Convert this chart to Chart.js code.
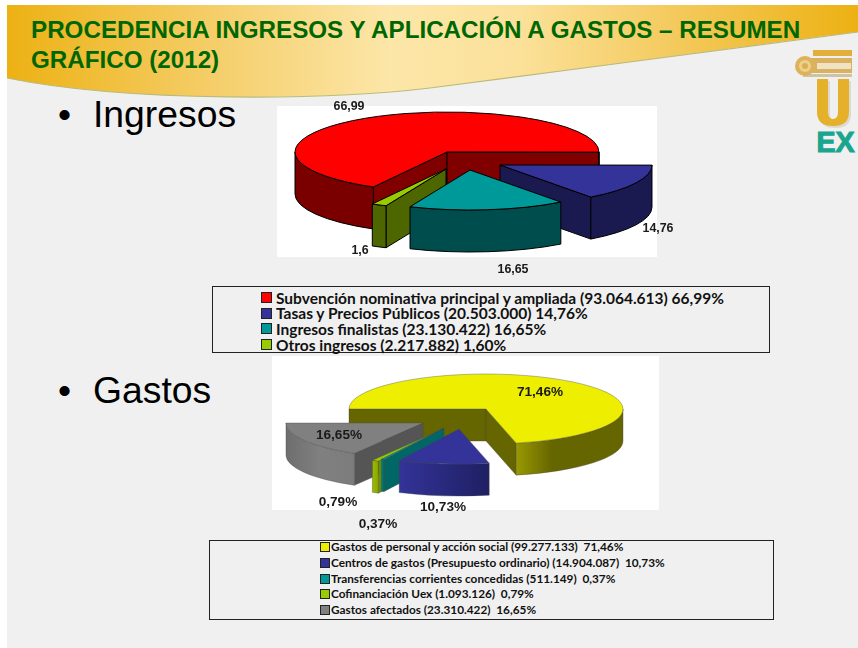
<!DOCTYPE html>
<html lang="es"><head><meta charset="utf-8">
<script src="https://cdn.jsdelivr.net/npm/chart.js@4/dist/chart.umd.min.js"></script>
<style>
html,body{margin:0;padding:0;background:#fff;}
#slide{position:absolute;left:7px;top:5px;width:851px;height:643px;background:#f0f0f0;}
#page{position:absolute;left:0;top:0;width:858px;height:648px;overflow:hidden;font-family:"Liberation Sans",Arial,sans-serif;}
svg.bg{position:absolute;left:0;top:0;}
.title{position:absolute;left:31px;color:#006600;font-weight:bold;font-size:24.2px;white-space:nowrap;line-height:28px;}
.head{position:absolute;color:#000;font-size:37.3px;line-height:42px;white-space:nowrap;}
.white{position:absolute;background:#fff;}
canvas{position:absolute;}
.legend{position:absolute;border:1px solid #222;box-sizing:border-box;}
.row{position:absolute;white-space:nowrap;font-family:Lato,"Open Sans",sans-serif;font-weight:700;color:#111;}
.sw{position:absolute;box-sizing:border-box;border:1px solid #222;}
</style></head><body>
<div id="slide"></div>
<div id="page">
<svg class="bg" width="858" height="648" viewBox="0 0 858 648">
 <defs><linearGradient id="hg" gradientUnits="userSpaceOnUse" x1="7" y1="0" x2="858" y2="0">
  <stop offset="0" stop-color="#edb113"/><stop offset="0.25" stop-color="#f5cf6c"/>
  <stop offset="0.45" stop-color="#fce6a8"/><stop offset="0.6" stop-color="#fbe19a"/><stop offset="0.8" stop-color="#f3c858"/><stop offset="1" stop-color="#edb113"/>
 </linearGradient></defs>
 <path d="M7,5 H858 V32 C780,41 560,72 430,88 C330,100 130,103 7,78 Z" fill="url(#hg)" stroke="none"/>
 <path d="M858,32 C780,41 560,72 430,88 C330,100 130,103 7,78" fill="none" stroke="#b9bb7d" stroke-width="1.2"/>
 <g id="logo">
  <rect x="813" y="50" width="39" height="6" fill="#e2b03a"/>
  <rect x="805" y="58" width="47" height="15" fill="#d9b160"/>
  <rect x="803" y="74" width="49" height="3" fill="#cfc3a6"/>
  <circle cx="805" cy="66" r="10" fill="#dcb25a"/><circle cx="805" cy="66" r="6" fill="#ecd08c"/><circle cx="805" cy="66" r="3" fill="#dcaf50"/>
  <rect x="817" y="63" width="34" height="6" fill="#efe3c4"/>
  <path d="M819,81 H830 V114 Q830,121 835,121 Q840,121 840,114 V81 H851 V114 Q851,128 835,128 Q819,128 819,114 Z" fill="#c9c3b4" opacity="0.5"/>
  <path d="M817,79 H828 V112 Q828,119 833,119 Q838,119 838,112 V79 H849 V112 Q849,126 833,126 Q817,126 817,112 Z" fill="#e5b02a"/>
  <text transform="translate(816.5,152) scale(1.06,1.12)" font-family="Liberation Sans" font-weight="bold" font-size="27" fill="#1aa58f" stroke="#1aa58f" stroke-width="1">EX</text>
 </g>
</svg>
<div class="title" style="top:16px">PROCEDENCIA INGRESOS Y APLICACIÓN A GASTOS – RESUMEN</div>
<div class="title" style="top:46px">GRÁFICO (2012)</div>
<div class="head" style="left:58px;top:93px">•</div><div class="head" style="left:93px;top:93px">Ingresos</div>
<div class="head" style="left:58px;top:369px">•</div><div class="head" style="left:93px;top:369px">Gastos</div>
<div class="white" style="left:277px;top:106px;width:380px;height:151px"></div>
<div class="white" style="left:272px;top:356px;width:387px;height:154px"></div>
<canvas id="c1" width="403" height="185" style="left:277px;top:97px"></canvas>
<canvas id="c2" width="387" height="178" style="left:272px;top:356px"></canvas>
<div class="legend" id="l1" style="left:212px;top:286px;width:558px;height:67px"></div>
<div class="legend" id="l2" style="left:209px;top:540px;width:565px;height:80px"></div>
</div>
<script>
// ---- data ----
const ingresosCategories = ["Subvención nominativa principal y ampliada","Tasas y Precios Públicos","Ingresos finalistas","Otros ingresos"];
const ingresosAmounts = ["93.064.613","20.503.000","23.130.422","2.217.882"];
const ingresosPercent = [66.99,14.76,16.65,1.60];
const gastosCategories = ["Gastos de personal y acción social","Centros de gastos (Presupuesto ordinario)","Transferencias corrientes concedidas","Cofinanciación Uex","Gastos afectados"];
const gastosAmounts = ["99.277.133","14.904.087","511.149","1.093.126","23.310.422"];
const gastosPercent = [71.46,10.73,0.37,0.79,16.65];
// ---- styles ----
const ingresosColors = ["#ff0000","#333399","#009999","#99cc00"];
const gastosColors = ["#eeee00","#333399","#009999","#99cc00","#808080"];
const comma = v => String(v).replace(".",",");
const comma2 = v => v.toFixed(2).replace(".",",");

function pie3d(cfg){
  const TAU = Math.PI*2;
  return {
    id:"pie3d",
    beforeDatasetDraw(){ return false; },
    beforeDatasetsDraw(chart){
      const ctx = chart.ctx, arcs = chart.getDatasetMeta(0).data;
      const cx0 = cfg.cx - cfg.ox, cy0 = cfg.cy - cfg.oy;
      const line = ()=>{ ctx.strokeStyle = cfg.stroke; ctx.lineWidth = cfg.strokeWidth; ctx.lineJoin="round"; ctx.stroke(); };
      cfg.order.forEach(i=>{
        const el = arcs[i], a0 = el.startAngle, a1 = el.endAngle;
        const cx = cx0 + cfg.explode[i][0], cy = cy0 + cfg.explode[i][1];
        const P = a => [cx+cfg.rx*Math.cos(a), cy+cfg.ry*Math.sin(a)];
        // cut faces that are turned towards the viewer
        [[a0,Math.cos(a0)<0],[a1,Math.cos(a1)>0]].forEach(([a,visible])=>{
          if(!visible) return;
          const p = P(a);
          ctx.beginPath(); ctx.moveTo(cx,cy); ctx.lineTo(p[0],p[1]); ctx.lineTo(p[0],p[1]+cfg.depth); ctx.lineTo(cx,cy+cfg.depth); ctx.closePath();
          ctx.fillStyle = cfg.face[i]; ctx.fill(); line();
        });
        // outer rim: only the part turned towards the viewer
        for(let k=-2;k<=1;k++){
          const s = Math.max(a0,k*TAU), e = Math.min(a1,k*TAU+Math.PI);
          if(e<=s) continue;
          const xs = [P(s)[0],P(e)[0]];
          const g = ctx.createLinearGradient(Math.min(...xs),0,Math.max(...xs),0);
          const st = cfg.rim[i]; st.forEach((c,j)=>g.addColorStop(st.length>1?j/(st.length-1):0,c));
          ctx.beginPath();
          ctx.ellipse(cx,cy,cfg.rx,cfg.ry,0,s,e,false);
          ctx.ellipse(cx,cy+cfg.depth,cfg.rx,cfg.ry,0,e,s,true);
          ctx.closePath(); ctx.fillStyle = g; ctx.fill(); line();
        }
        // top, drawn by the library's arc element
        ctx.save();
        ctx.translate(cx,cy); ctx.scale(cfg.rx/el.outerRadius,cfg.ry/el.outerRadius); ctx.translate(-el.x,-el.y);
        el.draw(ctx);
        ctx.restore();
        ctx.beginPath(); ctx.moveTo(cx,cy); ctx.ellipse(cx,cy,cfg.rx,cfg.ry,0,a0,a1,false); ctx.closePath(); line();
      });
    },
    afterDatasetsDraw(chart){
      const ctx = chart.ctx;
      ctx.font = cfg.font; ctx.fillStyle = "#1a1a1a"; ctx.textAlign="center"; ctx.textBaseline="middle";
      cfg.labels.forEach((t,i)=>ctx.fillText(t,cfg.labelAt[i][0]-cfg.ox,cfg.labelAt[i][1]-cfg.oy));
    }
  };
}
function makePie(id,values,colors,rotation,cfg){
  new Chart(document.getElementById(id),{
    type:"pie",
    data:{labels:cfg.names,datasets:[{data:values,backgroundColor:colors,borderWidth:0}]},
    options:{responsive:false,animation:false,rotation:rotation,events:[],
      plugins:{legend:{display:false},tooltip:{enabled:false}}},
    plugins:[pie3d(cfg)]
  });
}
makePie("c1",ingresosPercent,ingresosColors,-151,{
  names:ingresosCategories, ox:277, oy:97, cx:447, cy:152, rx:152, ry:40, depth:42,
  explode:[[0,0],[53,13],[23,18],[-1,17]], order:[0,1,3,2],
  face:["#800000","#1a1a50","#004d4d","#4d6600"],
  rim:[["#7a0000"],["#1a1a50"],["#004d4d"],["#4d6600"]],
  stroke:"#000", strokeWidth:1, font:"bold 12.4px 'Liberation Sans'",
  labels:ingresosPercent.map(comma),
  labelAt:[[349,107],[658,229],[513,270],[360,251]]
});
makePie("c2",gastosPercent,gastosColors,-90,{
  names:gastosCategories, ox:272, oy:356, cx:486, cy:409, rx:137, ry:35, depth:32,
  explode:[[0,0],[-27,20],[-42,19],[-45,21],[-63,14]], order:[0,4,3,2,1],
  face:["#666600","#333399","#006666","#6f8f00","#555555"],
  rim:[["#999900","#666600","#666600","#666600"],["#333399","#1f1f63"],["#008080","#006666"],["#99bb00","#8aa800"],["#6e6e6e","#808080","#7c7c7c"]],
  stroke:"rgba(70,70,70,0.55)", strokeWidth:0.7, font:"bold 13.6px 'Liberation Sans'",
  labels:gastosPercent.map(v=>comma2(v)+"%"),
  labelAt:[[540,392],[443,507],[378,524],[338,502],[339,435]]
});
// ---- legends ----
function legend(id,names,amounts,pct,colors,o){
  const box = document.getElementById(id);
  names.forEach((n,i)=>{
    const y = o.top + i*o.step;
    const sw = document.createElement("div"); sw.className="sw";
    sw.style.cssText = `left:${o.swX}px;top:${y-o.sw/2}px;width:${o.sw}px;height:${o.sw}px;background:${colors[i]}`;
    const r = document.createElement("div"); r.className="row";
    r.style.cssText = `left:${o.x}px;top:${y-10}px;line-height:20px;font-size:${o.size}px;letter-spacing:${o.ls}px`;
    r.textContent = `${n} (${amounts[i]})${o.gap}${comma2(pct[i])}%`;
    box.append(sw,r);
  });
}
legend("l1",ingresosCategories,ingresosAmounts,ingresosPercent,ingresosColors,{top:10.5,step:15.7,swX:48,sw:11,x:63,size:15.5,ls:0,gap:" "});
legend("l2",gastosCategories,gastosAmounts,gastosPercent,gastosColors,{top:6,step:15.8,swX:110,sw:10,x:121,size:11.8,ls:0,gap:"\u00a0\u00a0"});
</script>
</body></html>
